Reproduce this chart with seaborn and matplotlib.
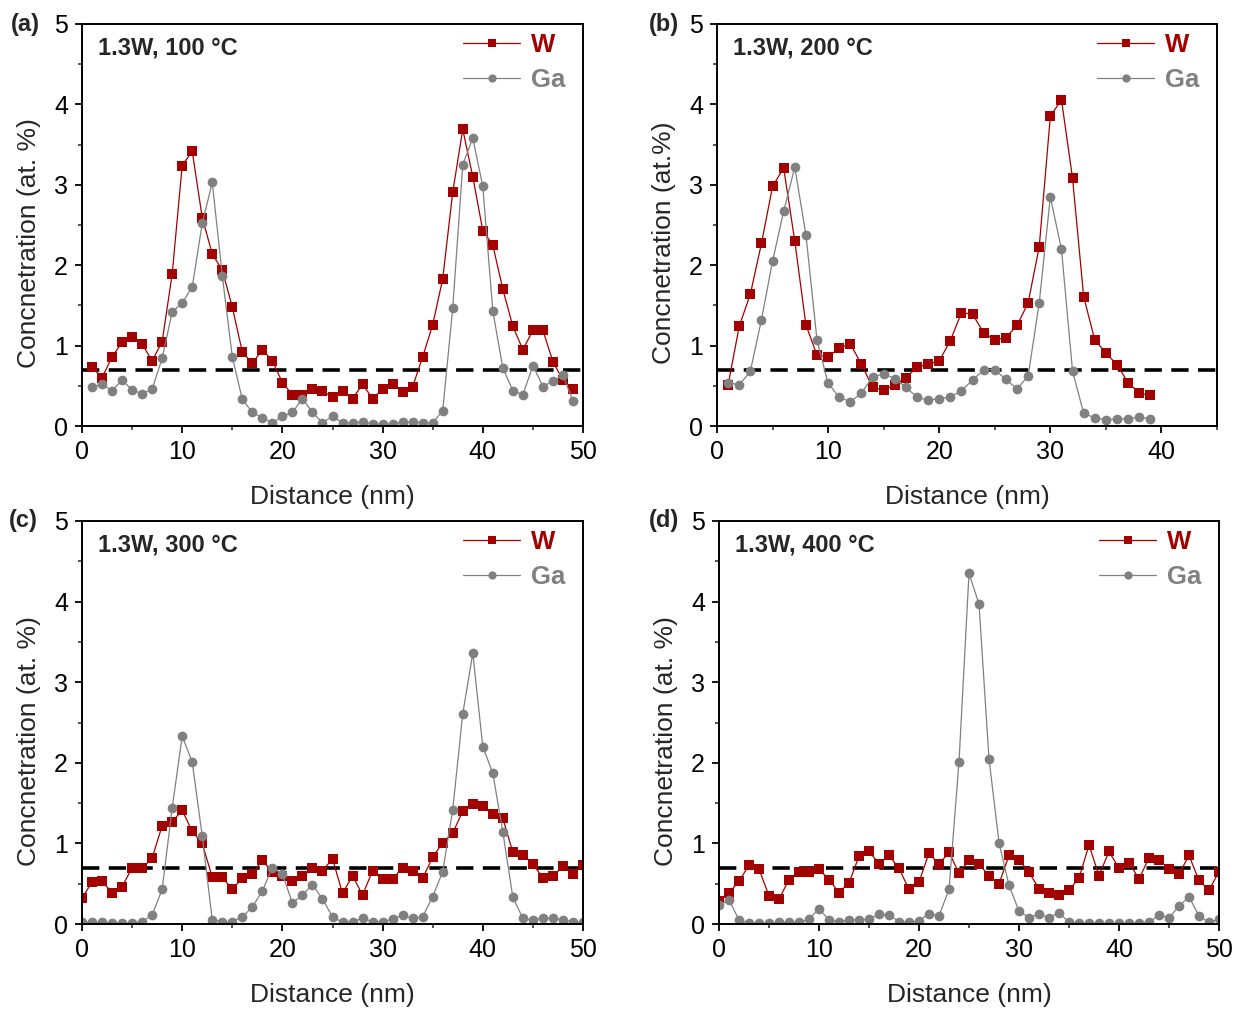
import numpy as np
import pandas as pd
import matplotlib
matplotlib.use("Agg")
import matplotlib.pyplot as plt
import seaborn as sns

# ---------------- data ----------------
x_a = list(range(1, 50))
W_a = [0.73, 0.60, 0.86, 1.04, 1.11, 1.02, 0.81, 1.05, 1.89, 3.24, 3.42, 2.59, 2.14, 1.94, 1.48, 0.92, 0.78,
       0.95, 0.81, 0.54, 0.39, 0.38, 0.46, 0.43, 0.36, 0.44, 0.34, 0.52, 0.34, 0.46, 0.52, 0.42, 0.49, 0.86,
       1.26, 1.83, 2.91, 3.69, 3.10, 2.43, 2.25, 1.70, 1.24, 0.95, 1.19, 1.19, 0.80, 0.57, 0.46]
Ga_a = [0.48, 0.52, 0.44, 0.57, 0.45, 0.40, 0.46, 0.84, 1.42, 1.53, 1.73, 2.52, 3.03, 1.87, 0.86, 0.33, 0.17,
        0.10, 0.04, 0.12, 0.17, 0.34, 0.17, 0.04, 0.12, 0.04, 0.04, 0.05, 0.03, 0.02, 0.03, 0.05, 0.05, 0.04,
        0.04, 0.19, 1.47, 3.25, 3.58, 2.98, 1.43, 0.72, 0.44, 0.39, 0.75, 0.49, 0.56, 0.63, 0.31]

x_b = list(range(1, 40))
W_b = [0.51, 1.24, 1.64, 2.27, 2.98, 3.21, 2.30, 1.26, 0.88, 0.86, 0.97, 1.02, 0.77, 0.48, 0.45, 0.51, 0.60,
       0.73, 0.77, 0.81, 1.06, 1.41, 1.39, 1.16, 1.07, 1.10, 1.25, 1.53, 2.23, 3.85, 4.06, 3.08, 1.61, 1.07,
       0.91, 0.76, 0.54, 0.41, 0.38]
Ga_b = [0.54, 0.51, 0.68, 1.32, 2.05, 2.67, 3.22, 2.38, 1.07, 0.53, 0.36, 0.30, 0.41, 0.61, 0.65, 0.59, 0.48,
        0.36, 0.32, 0.34, 0.36, 0.44, 0.57, 0.70, 0.70, 0.58, 0.46, 0.62, 1.53, 2.85, 2.20, 0.68, 0.16, 0.10,
        0.08, 0.09, 0.09, 0.11, 0.09]

x_c = list(range(0, 51))
W_c = [0.32, 0.52, 0.53, 0.39, 0.46, 0.70, 0.69, 0.82, 1.22, 1.27, 1.41, 1.15, 1.00, 0.58, 0.58, 0.43, 0.57,
       0.62, 0.79, 0.64, 0.59, 0.53, 0.59, 0.69, 0.66, 0.81, 0.38, 0.60, 0.36, 0.66, 0.56, 0.56, 0.70, 0.66,
       0.57, 0.83, 1.01, 1.13, 1.40, 1.49, 1.47, 1.36, 1.31, 0.89, 0.86, 0.75, 0.57, 0.59, 0.72, 0.62, 0.73]
Ga_c = [0.02, 0.02, 0.02, 0.01, 0.01, 0.01, 0.03, 0.11, 0.43, 1.44, 2.33, 2.01, 1.09, 0.05, 0.03, 0.03, 0.09,
        0.21, 0.41, 0.70, 0.62, 0.26, 0.36, 0.49, 0.31, 0.09, 0.02, 0.03, 0.07, 0.03, 0.03, 0.06, 0.11, 0.07,
        0.09, 0.34, 0.65, 1.42, 2.61, 3.36, 2.20, 1.87, 1.14, 0.33, 0.07, 0.05, 0.07, 0.07, 0.05, 0.03, 0.02]

x_d = list(range(0, 51))
W_d = [0.28, 0.39, 0.53, 0.73, 0.68, 0.35, 0.31, 0.55, 0.64, 0.64, 0.68, 0.55, 0.39, 0.51, 0.84, 0.90, 0.75,
       0.85, 0.69, 0.43, 0.52, 0.88, 0.74, 0.89, 0.63, 0.79, 0.74, 0.60, 0.50, 0.85, 0.80, 0.64, 0.44, 0.39,
       0.36, 0.42, 0.57, 0.98, 0.60, 0.90, 0.69, 0.76, 0.56, 0.82, 0.80, 0.68, 0.62, 0.85, 0.54, 0.42, 0.65]
Ga_d = [0.23, 0.30, 0.05, 0.01, 0.01, 0.01, 0.02, 0.02, 0.02, 0.06, 0.19, 0.05, 0.03, 0.05, 0.05, 0.06, 0.12,
        0.11, 0.03, 0.02, 0.04, 0.13, 0.10, 0.43, 2.01, 4.35, 3.97, 2.05, 1.01, 0.48, 0.16, 0.08, 0.12, 0.08,
        0.14, 0.02, 0.01, 0.01, 0.01, 0.01, 0.01, 0.01, 0.01, 0.02, 0.11, 0.08, 0.22, 0.34, 0.10, 0.02, 0.06]

panel_tags = ["(a)", "(b)", "(c)", "(d)"]
conditions = ["1.3W, 100 °C", "1.3W, 200 °C", "1.3W, 300 °C", "1.3W, 400 °C"]
ylabels = ["Concnetration (at. %)", "Concnetration (at.%)", "Concnetration (at. %)", "Concnetration (at. %)"]
xlims = [50, 45, 50, 50]
threshold = 0.7

# ---------------- style ----------------
sns.set_theme(style="ticks")
plt.rcParams["font.family"] = ["Liberation Sans", "DejaVu Sans"]
plt.rcParams["axes.linewidth"] = 1.4
plt.rcParams["xtick.major.width"] = 1.3
plt.rcParams["ytick.major.width"] = 1.3
plt.rcParams["xtick.minor.width"] = 1.1
plt.rcParams["ytick.minor.width"] = 1.1
plt.rcParams["xtick.major.size"] = 5
plt.rcParams["ytick.major.size"] = 5
plt.rcParams["xtick.minor.size"] = 3
plt.rcParams["ytick.minor.size"] = 3
plt.rcParams["xtick.direction"] = "out"
plt.rcParams["ytick.direction"] = "out"

RED = "#A30000"
GRAY = "#808080"

fig = plt.figure(figsize=(12.41, 10.11), dpi=100)
W, H = 1241, 1011
boxes = [(82, 583, 24, 426), (717, 1217, 24, 426), (82, 583, 521, 924), (719, 1219, 521, 924)]
tag_pos = [(11, 24), (649, 24), (9, 521), (649, 521)]
ylabel_x = [41, 676, 41, 678]

datasets = [(x_a, W_a, Ga_a), (x_b, W_b, Ga_b), (x_c, W_c, Ga_c), (x_d, W_d, Ga_d)]

for i, ((xv, wv, gv), (l, r, t, b)) in enumerate(zip(datasets, boxes)):
    ax = fig.add_axes([l / W, 1 - b / H, (r - l) / W, (b - t) / H])
    df = pd.DataFrame({
        "Distance": list(xv) + list(xv),
        "Conc": list(wv) + list(gv),
        "Element": ["W"] * len(xv) + ["Ga"] * len(xv),
    })
    sns.lineplot(data=df, x="Distance", y="Conc", hue="Element", style="Element",
                 hue_order=["W", "Ga"], style_order=["W", "Ga"],
                 palette={"W": RED, "Ga": GRAY}, markers={"W": "s", "Ga": "o"},
                 dashes=False, markersize=7, markeredgewidth=0, linewidth=0.9,
                 estimator=None, sort=False, ax=ax)
    ax.axhline(threshold, color="black", lw=2.6, dashes=(4.8, 2.6), zorder=1)

    ax.set_xlim(0, xlims[i])
    ax.set_ylim(0, 5)
    ax.set_xticks(np.arange(0, xlims[i] + 1, 10))
    ax.set_xticks(np.arange(0, xlims[i] + 1, 5), minor=True)
    ax.set_yticks(np.arange(0, 6, 1))
    ax.set_yticks(np.arange(0, 5.01, 0.5), minor=True)
    ax.tick_params(axis="both", which="major", labelsize=18, colors="black", pad=5)
    ax.tick_params(axis="both", which="minor", labelbottom=False, labelleft=False)
    for sp in ax.spines.values():
        sp.set_visible(True)
        sp.set_color("black")

    ax.set_xlabel("Distance (nm)", fontsize=19, labelpad=15)
    ax.set_ylabel(ylabels[i], fontsize=19)
    ax.yaxis.set_label_coords((ylabel_x[i] - l) / (r - l), 0.455)

    ax.text(0.032, 0.94, conditions[i], transform=ax.transAxes, fontsize=17,
            fontweight="bold", ha="left", va="center")

    handles, labels = ax.get_legend_handles_labels()
    leg = ax.legend(handles, labels, loc="upper right", bbox_to_anchor=(0.986, 1.002),
                    borderaxespad=0, frameon=False, handlelength=2.2, handletextpad=0.45,
                    labelspacing=0.4, markerscale=0.85, prop={"weight": "bold", "size": 18.5})
    for txt, c in zip(leg.get_texts(), [RED, GRAY]):
        txt.set_color(c)

    fig.text(tag_pos[i][0] / W, 1 - tag_pos[i][1] / H, panel_tags[i], fontsize=17,
             fontweight="bold", ha="left", va="center")

fig.savefig("out.png", dpi=100)
